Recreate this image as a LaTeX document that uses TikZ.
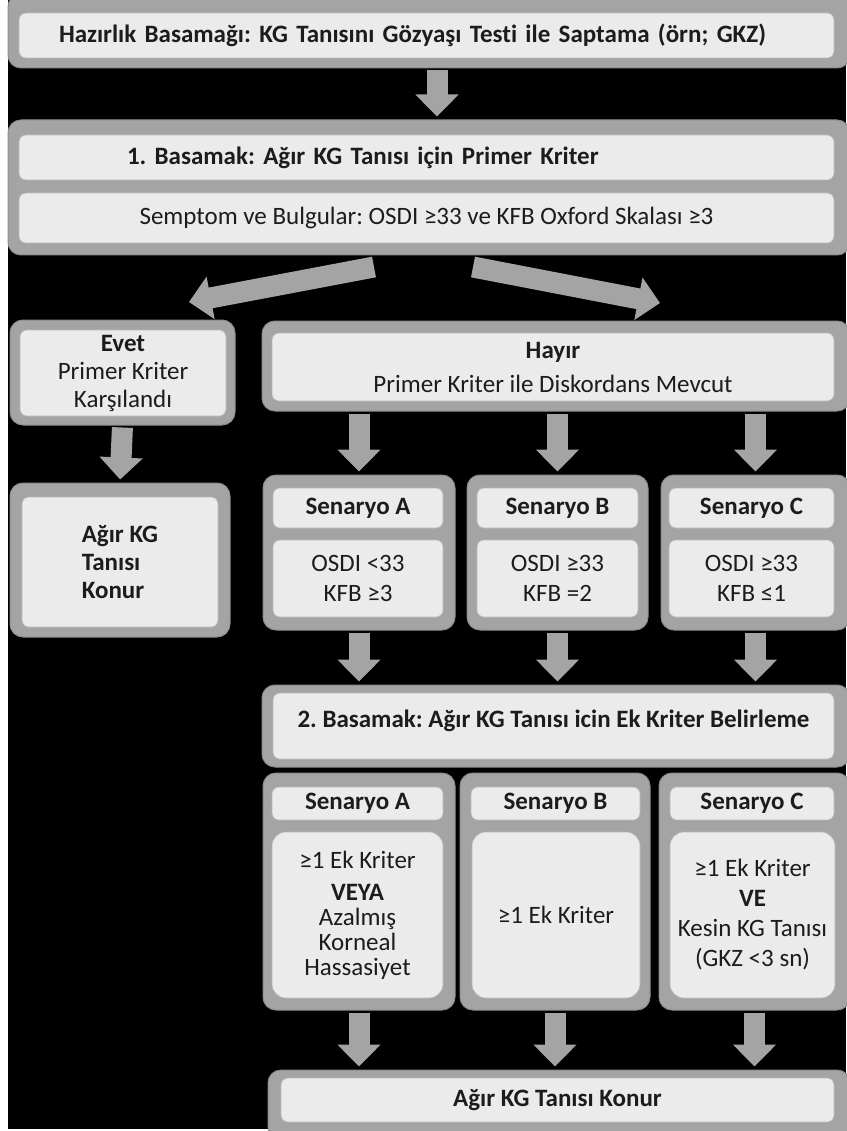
\documentclass[tikz,border=0pt]{standalone}
\usepackage{fontspec}
\setmainfont{Carlito}[Ligatures=NoCommon]
\usepackage{xcolor}
\usepackage{tikz}
\usetikzlibrary{arrows.meta}
\frenchspacing

\definecolor{framegray}{HTML}{A4A4A4}
\definecolor{panelgray}{HTML}{EBEBEB}
\definecolor{edgegray}{HTML}{8C8C8C}
\definecolor{inkgray}{HTML}{1C1C1C}

\begin{document}
\begin{tikzpicture}[x=1pt, y=-1pt,
  frame/.style={fill=framegray, draw=edgegray, line width=1pt, rounded corners=13pt, inner sep=0pt},
  panel/.style={fill=panelgray, draw=edgegray!60, line width=0.6pt, rounded corners=7pt, inner sep=0pt,
    align=center, text=inkgray, font=\fontsize{25}{28}\selectfont},
  boldpanel/.style={panel, font=\fontsize{25}{28}\selectfont\bfseries},
  bigarrow/.style={draw=framegray, line width=21pt, shorten <=2pt, shorten >=3pt,
    -{Triangle[length=22pt, width=42pt]}}]

  \useasboundingbox (0,0) rectangle (846,1131);
  \fill[white] (0,0) rectangle (846,1131);
  \fill[black] (8,0) rectangle (846,1129);

  \node[frame, minimum width=842pt, minimum height=74pt] (prep) at (429,31) {};
  \node[boldpanel, minimum width=815pt, minimum height=45pt, text width=735pt, inner xsep=40pt, align=left]
    (prepin) at (426.5,35.5) {Hazırlık Basamağı: KG Tanısını Gözyaşı Testi ile Saptama (örn; GKZ)};

  \node[frame, minimum width=842pt, minimum height=135pt] (step1) at (429,187.5) {};
  \node[boldpanel, minimum width=815pt, minimum height=45pt, text width=599pt, inner xsep=108pt, align=left]
    (step1head) at (426.5,157.5) {1. Basamak: Ağır KG Tanısı için Primer Kriter};
  \node[panel, minimum width=815pt, minimum height=50pt] (step1crit) at (426.5,218)
    {Semptom ve Bulgular: OSDI ≥33 ve KFB Oxford Skalası ≥3};

  \node[frame, minimum width=225pt, minimum height=105pt] (evet) at (122.5,372.5) {};
  \node[panel, minimum width=206pt, minimum height=86pt] (evetin) at (123,373)
    {\textbf{Evet}\\Primer Kriter\\Karşılandı};

  \node[frame, minimum width=588pt, minimum height=90pt] (hayir) at (556,366) {};
  \node[panel, font=\fontsize{25}{34}\selectfont, minimum width=562pt, minimum height=68pt] (hayirin) at (553,367)
    {\textbf{Hayır}\\Primer Kriter ile Diskordans Mevcut};

  \node[frame, minimum width=220pt, minimum height=154pt] (agir) at (120,560) {};
  \node[boldpanel, minimum width=196pt, minimum height=130pt, align=left] (agirin) at (120,562)
    {Ağır KG\\Tanısı\\Konur};

  \node[frame, minimum width=192pt, minimum height=155pt] (scenA) at (359,552.5) {};
  \node[frame, minimum width=181pt, minimum height=155pt] (scenB) at (557.5,552.5) {};
  \node[frame, minimum width=189pt, minimum height=155pt] (scenC) at (755.5,552.5) {};
  \node[boldpanel, minimum width=170pt, minimum height=40pt] (scenAhead) at (358,508) {Senaryo A};
  \node[boldpanel, minimum width=161pt, minimum height=40pt] (scenBhead) at (557.5,508) {Senaryo B};
  \node[boldpanel, minimum width=165pt, minimum height=40pt] (scenChead) at (751.5,508) {Senaryo C};
  \node[panel, font=\fontsize{25}{30}\selectfont, minimum width=170pt, minimum height=77pt]
    (scenAbody) at (358,578.5) {OSDI <33\\KFB ≥3};
  \node[panel, font=\fontsize{25}{30}\selectfont, minimum width=161pt, minimum height=77pt]
    (scenBbody) at (557.5,578.5) {OSDI ≥33\\KFB =2};
  \node[panel, font=\fontsize{25}{30}\selectfont, minimum width=165pt, minimum height=77pt]
    (scenCbody) at (751.5,578.5) {OSDI ≥33\\KFB ≤1};

  \node[frame, minimum width=588pt, minimum height=82pt] (step2) at (556,726) {};
  \node[boldpanel, minimum width=561pt, minimum height=66pt, text depth=14pt] (step2in) at (553.5,726)
    {2. Basamak: Ağır KG Tanısı icin Ek Kriter Belirleme};

  \node[frame, minimum width=192pt, minimum height=237pt] (extA) at (359,891.5) {};
  \node[frame, minimum width=190pt, minimum height=237pt] (extB) at (555,891.5) {};
  \node[frame, minimum width=191pt, minimum height=237pt] (extC) at (754.5,891.5) {};
  \node[boldpanel, minimum width=171pt, minimum height=33pt] (extAhead) at (357.5,803.5) {Senaryo A};
  \node[boldpanel, minimum width=169pt, minimum height=33pt] (extBhead) at (555.5,803.5) {Senaryo B};
  \node[boldpanel, minimum width=164pt, minimum height=33pt] (extChead) at (752,803.5) {Senaryo C};
  \node[panel, rounded corners=14pt, font=\fontsize{25}{25}\selectfont, minimum width=171pt, minimum height=166pt]
    (extAbody) at (357.5,915) {≥1 Ek Kriter\\[7pt]\textbf{VEYA}\\Azalmış\\Korneal\\Hassasiyet};
  \node[panel, rounded corners=14pt, minimum width=168pt, minimum height=166pt]
    (extBbody) at (556,915) {≥1 Ek Kriter};
  \node[panel, rounded corners=14pt, font=\fontsize{25}{30}\selectfont, minimum width=165pt, minimum height=166pt]
    (extCbody) at (752.5,915) {≥1 Ek Kriter\\\textbf{VE}\\Kesin KG Tanısı\\(GKZ <3 sn)};

  \node[frame, minimum width=582pt, minimum height=70pt] (final) at (559,1105) {};
  \node[boldpanel, minimum width=553pt, minimum height=44pt] (finalin) at (557.5,1100) {Ağır KG Tanısı Konur};

  \coordinate (forkL) at (374,267);
  \coordinate (tipL) at (189,302);
  \coordinate (forkR) at (473,267);
  \coordinate (tipR) at (660,303);

  \draw[bigarrow] ([xshift=8pt]prep.south) -- ([xshift=8pt]step1.north);
  \draw[bigarrow, shorten <=0pt, shorten >=0pt] (forkL) -- (tipL);
  \draw[bigarrow, shorten <=0pt, shorten >=0pt] (forkR) -- (tipR);
  \draw[bigarrow] (evet.south) -- (agir.north);
  \draw[bigarrow] (hayir.south -| scenA.north) -- (scenA.north);
  \draw[bigarrow] (hayir.south -| scenB.north) -- (scenB.north);
  \draw[bigarrow] (hayir.south -| scenC.north) -- (scenC.north);
  \draw[bigarrow] (scenA.south) -- (step2.north -| scenA.south);
  \draw[bigarrow] (scenB.south) -- (step2.north -| scenB.south);
  \draw[bigarrow] (scenC.south) -- (step2.north -| scenC.south);
  \draw[bigarrow] (extA.south) -- (final.north -| extA.south);
  \draw[bigarrow] (extB.south) -- (final.north -| extB.south);
  \draw[bigarrow] (extC.south) -- (final.north -| extC.south);
\end{tikzpicture}
\end{document}
